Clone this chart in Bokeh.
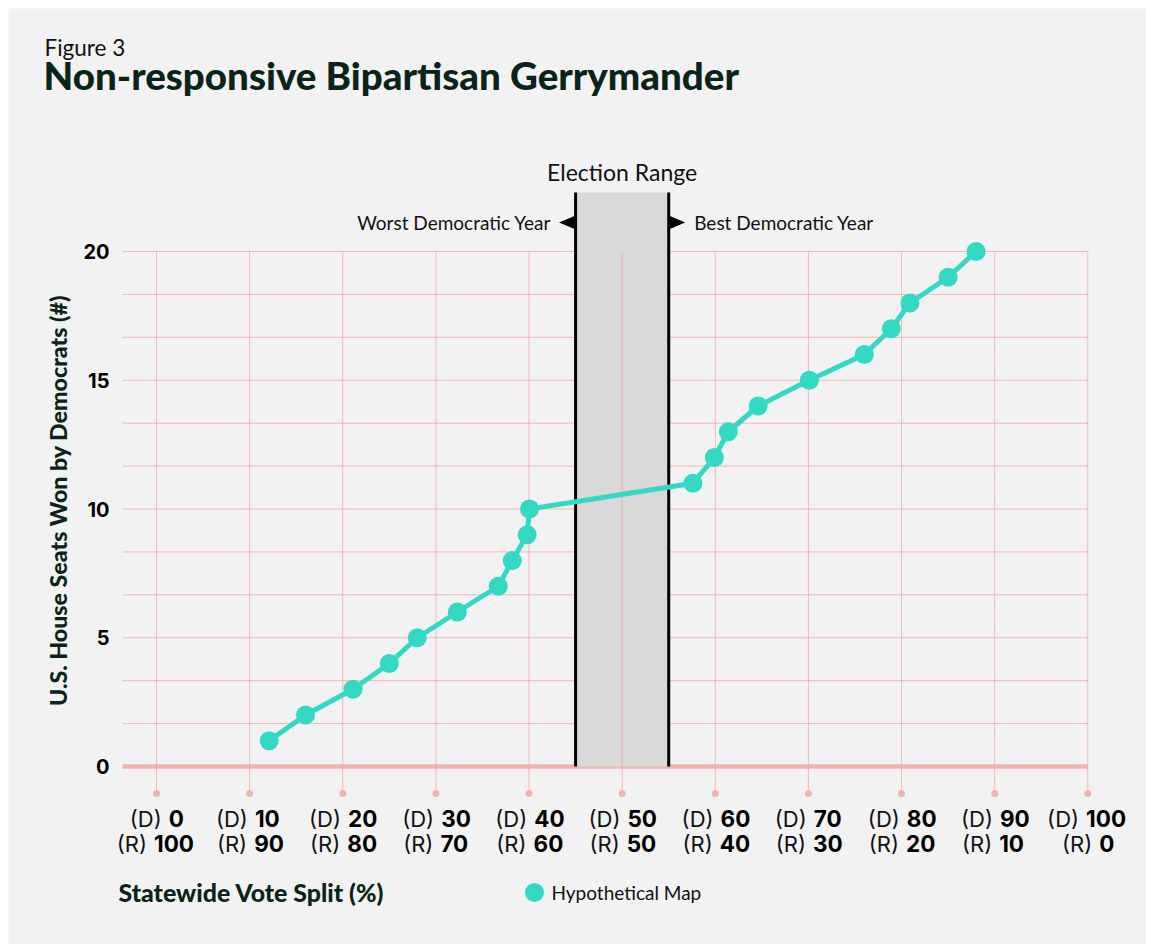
import math
from bokeh.plotting import figure
from bokeh.models import Range1d, ColumnDataSource
from bokeh.core.properties import value
from bokeh.embed import file_html
from bokeh.resources import INLINE

# ---------------- data ----------------
vote_share = [12.1, 16.0, 21.1, 25.0, 28.0, 32.3, 36.7, 38.2, 39.8, 40.05,
              57.6, 59.9, 61.4, 64.6, 70.1, 76.0, 78.9, 80.9, 85.0, 88.0]
seats = [1, 2, 3, 4, 5, 6, 7, 8, 9, 10,
         11, 12, 13, 14, 15, 16, 17, 18, 19, 20]
series_name = "Hypothetical Map"

x_ticks = [0, 10, 20, 30, 40, 50, 60, 70, 80, 90, 100]
x_tick_dem = ["0", "10", "20", "30", "40", "50", "60", "70", "80", "90", "100"]
x_tick_rep = ["100", "90", "80", "70", "60", "50", "40", "30", "20", "10", "0"]
y_ticks = [0, 5, 10, 15, 20]
y_tick_labels = ["0", "5", "10", "15", "20"]
election_range = [45, 55]

title_small = "Figure 3"
title_main = "Non-responsive Bipartisan Gerrymander"
x_title = "Statewide Vote Split (%)"
y_title = "U.S. House Seats Won by Democrats (#)"
range_title = "Election Range"
worst_label = "Worst Democratic Year"
best_label = "Best Democratic Year"

# ---------------- layout helpers ----------------
W, H = 1138, 936
PAGE = 8
X0_PX, X_SCALE = 156.0, 9.313      # page px of x=0, px per unit
Y0_PX, Y_SCALE = 766.0, 25.75      # page px of y=0, px per unit


def px_x(px):
    return (px - X0_PX) / X_SCALE


def px_y(py):
    return (Y0_PX - py) / Y_SCALE


BG = "#f2f2f2"
GRID = "#f0aaa3"
TEAL = "#33d9c3"
DARK = "#0b2419"
INK = "#111111"
HEAVY = value("'Lato Black', 'Lato Heavy', Lato")

p = figure(width=W, height=H, output_backend="svg", toolbar_location=None,
           x_range=Range1d(px_x(PAGE), px_x(PAGE + W)),
           y_range=Range1d(px_y(PAGE + H), px_y(PAGE)),
           min_border=0, min_border_left=0, min_border_right=0,
           min_border_top=0, min_border_bottom=0,
           background_fill_color=BG, border_fill_color=BG,
           outline_line_color=None)
p.margin = (8, 8, 8, 8)
p.axis.visible = False
p.grid.visible = False

ymax = max(y_ticks)
xmax = max(x_ticks)
grid_left = px_x(122)

# horizontal gridlines: thirds between major ticks
step = (y_ticks[1] - y_ticks[0]) / 3.0
ygrid = [step * k for k in range(1, int(round(ymax / step)) + 1)]
p.segment(x0=[grid_left] * len(ygrid), y0=ygrid, x1=[xmax] * len(ygrid), y1=ygrid,
          line_color=GRID, line_width=1, line_alpha=0.8)

# zero line
p.segment(x0=[grid_left], y0=[0], x1=[xmax], y1=[0],
          line_color="#f0b5af", line_width=4.5)

# election range band
band_top = px_y(192)
p.quad(left=[election_range[0]], right=[election_range[1]], bottom=[0], top=[band_top],
       fill_color="#d9d9d9", line_color=None)

# vertical gridlines with tick dots
tick_bottom = px_y(793)
p.segment(x0=x_ticks, y0=[tick_bottom] * len(x_ticks), x1=x_ticks, y1=[ymax] * len(x_ticks),
          line_color=GRID, line_width=1, line_alpha=0.75)
p.scatter(x=x_ticks, y=[tick_bottom] * len(x_ticks), size=7, marker="circle",
          fill_color="#f0b5af", line_color=None)

# band edges
p.segment(x0=election_range, y0=[0, 0], x1=election_range, y1=[band_top, band_top],
          line_color="black", line_width=3)

# arrows
arrow_y = px_y(222)
half_h = 6.5 / Y_SCALE
arrow_len = 16.5 / X_SCALE
lo, hi = election_range
p.patches(xs=[[lo - 0.12, lo - 0.12, lo - arrow_len], [hi + 0.12, hi + 0.12, hi + arrow_len]],
          ys=[[arrow_y - half_h, arrow_y + half_h, arrow_y], [arrow_y - half_h, arrow_y + half_h, arrow_y]],
          fill_color="black", line_color=None)

# data line + markers
src = ColumnDataSource(dict(x=vote_share, y=seats))
p.line("x", "y", source=src, line_color=TEAL, line_width=5)
p.scatter("x", "y", source=src, size=19, marker="circle", fill_color=TEAL, line_color=None)


# ---------------- texts ----------------
def txt(x, y, t, size, font=value("Lato"), style="normal", color=INK, align="left",
        baseline="middle", angle=0.0):
    p.text(x=[x], y=[y], text=[t], text_font=font, text_font_size=value(size),
           text_font_style=style, text_color=color, text_align=align,
           text_baseline=baseline, angle=angle)


txt(px_x(44), px_y(46.5), title_small, "22.5px")
txt(px_x(43), px_y(74.5), title_main, "38.5px", font=HEAVY, style="bold", color=DARK)

txt((lo + hi) / 2, px_y(171), range_title, "23px", align="center")
txt(lo - arrow_len - 8 / X_SCALE, arrow_y, worst_label, "19px", align="right")
txt(hi + arrow_len + 9 / X_SCALE, arrow_y, best_label, "19px", align="left")

# y tick labels
p.text(x=[px_x(109)] * len(y_ticks), y=y_ticks, text=y_tick_labels,
       text_font=value("Inter"), text_font_size=value("20px"), text_font_style="bold",
       text_color="black", text_align="right", text_baseline="middle")

# y axis title
txt(px_x(57), px_y(500), y_title, "23.2px", font=HEAVY, style="bold", color=DARK,
    align="center", angle=math.pi / 2)

# x tick labels: "(D)" regular + number bold, centred on tick
DIGIT_W = 14.0
GAP = 7.0
PRE_D, PRE_R = 31.5, 30.0


def anchor_offsets(nums, pre_w):
    offs = []
    for n in nums:
        wn = DIGIT_W * len(n)
        offs.append((pre_w - GAP - wn) / 2.0)
    return offs


for nums, prefix, pre_w, ypx in ((x_tick_dem, "(D)", PRE_D, 818), (x_tick_rep, "(R)", PRE_R, 843)):
    offs = anchor_offsets(nums, pre_w)
    yv = [px_y(ypx)] * len(x_ticks)
    p.text(x=x_ticks, y=yv, text=[prefix] * len(x_ticks), x_offset=offs,
           text_font=value("Inter"), text_font_size=value("22px"), text_color=INK,
           text_align="right", text_baseline="middle")
    p.text(x=x_ticks, y=yv, text=nums, x_offset=[o + GAP for o in offs],
           text_font=value("Inter"), text_font_size=value("22.5px"), text_font_style="bold",
           text_color="black", text_align="left", text_baseline="middle")

# x axis title
txt(px_x(118), px_y(891), x_title, "24.9px", font=HEAVY, style="bold", color=DARK)

# legend
p.scatter(x=[px_x(534)], y=[px_y(892)], size=19, marker="circle", fill_color=TEAL, line_color=None)
txt(px_x(551), px_y(892), series_name, "19px")

open("out.html", "w").write(file_html(p, INLINE))
